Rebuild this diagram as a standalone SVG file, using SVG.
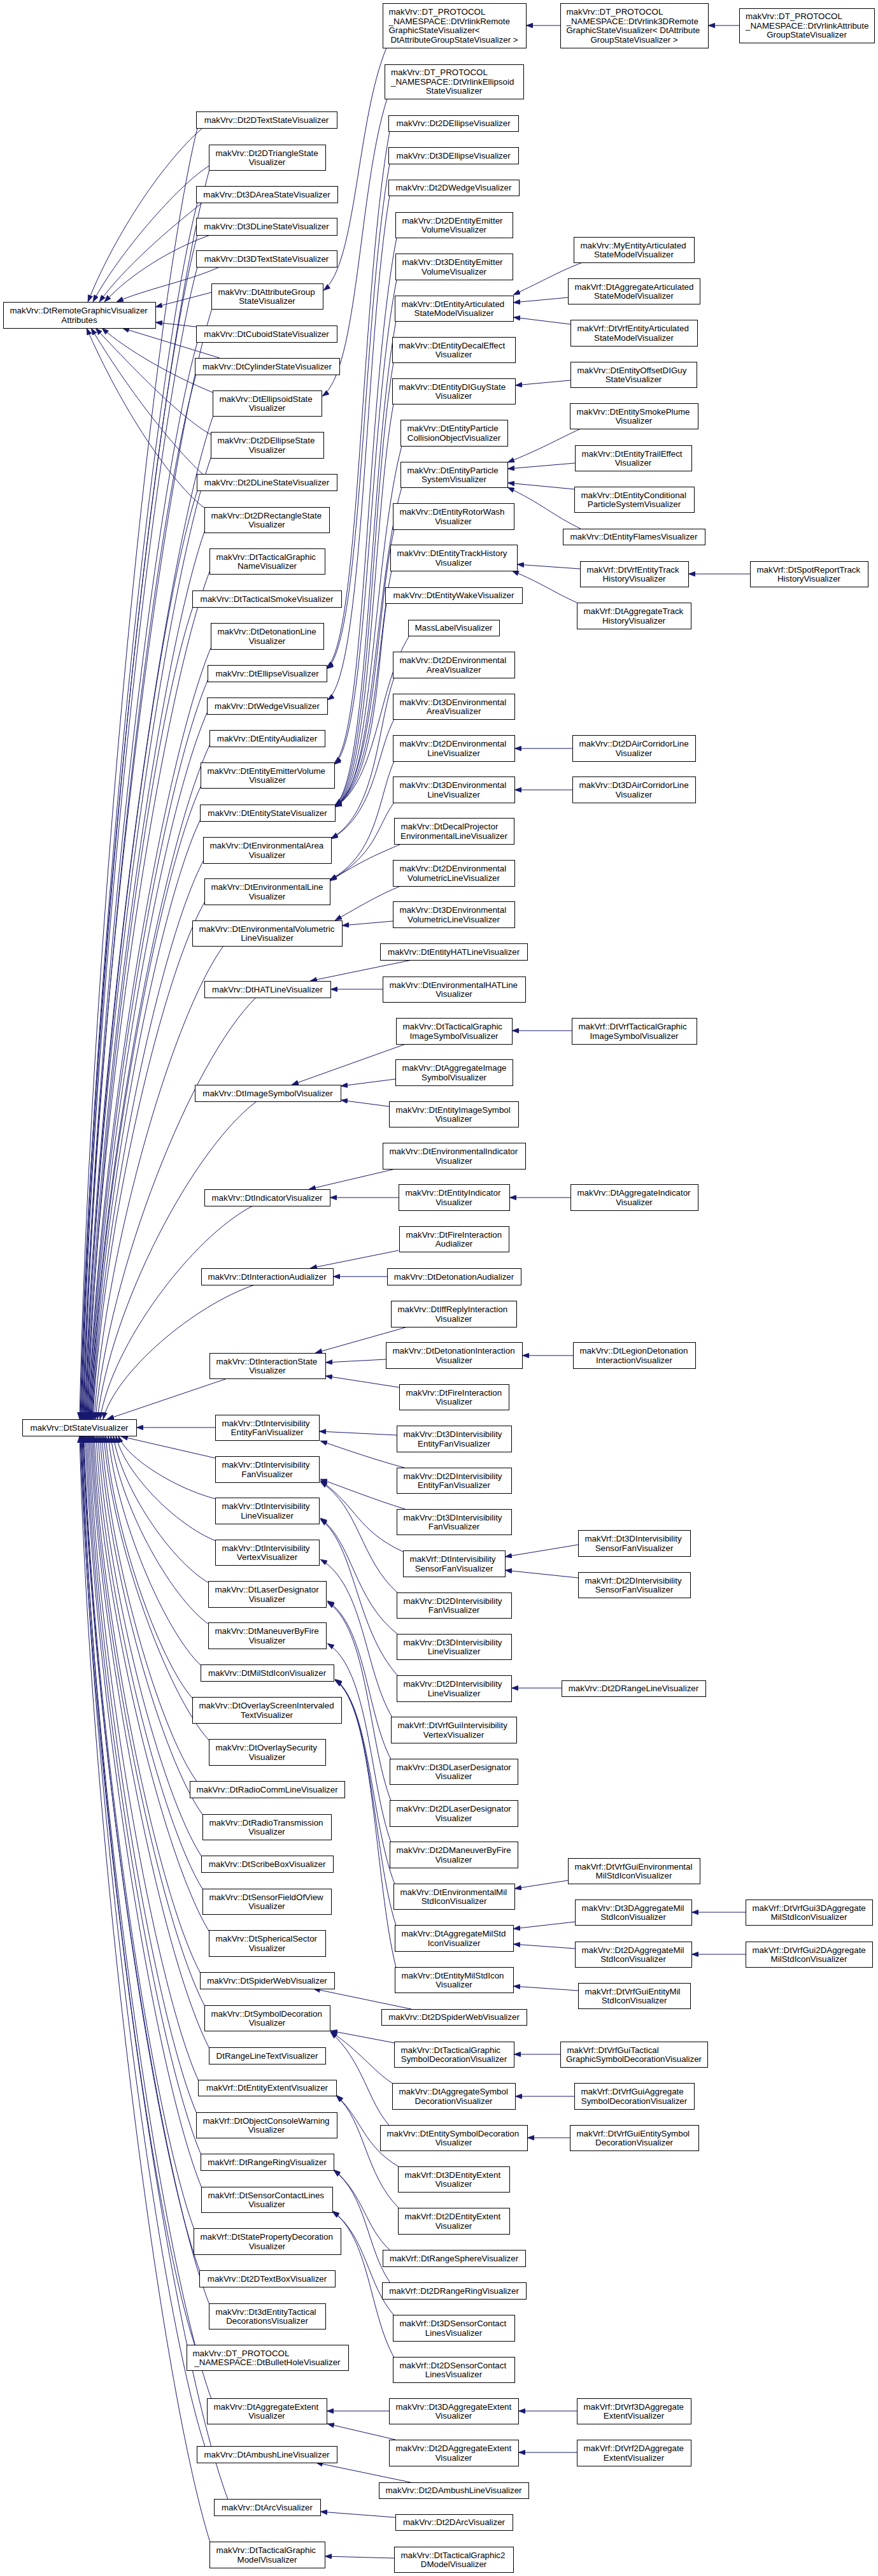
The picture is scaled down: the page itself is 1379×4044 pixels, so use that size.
<svg xmlns="http://www.w3.org/2000/svg" width="1379" height="4044" viewBox="0 0 1379 4044">
<style>
.n rect{fill:#fff;stroke:#000;stroke-width:1}
text{font-family:"Liberation Sans",Arial,Helvetica,sans-serif;font-size:13.33px;fill:#000}
.c{text-anchor:middle}
.e path{fill:none;stroke:#191970;stroke-width:1;marker-end:url(#a)}
</style>
<defs>
<marker id="a" viewBox="0 0 11 8" refX="11" refY="4" markerWidth="11" markerHeight="8" markerUnits="userSpaceOnUse" orient="auto"><path d="M0,0L11,4L0,8z" fill="#191970" stroke="#191970" stroke-width="0.5"/></marker>
</defs>
<rect x="0" y="0" width="1379" height="4044" fill="#fff"/>
<g id="edges" class="e">
<path d="M880,40 L826,40"/>
<path d="M1161,40 L1112,40"/>
<path d="M607,75 C560,189 560,416 508,456"/>
<path d="M608,155 C563,295 563,582 506,622"/>
<path d="M612,206 C566,459 566,1006 513,1048"/>
<path d="M612,257 C569,495 569,1010 513,1050"/>
<path d="M612,307 C572,545 572,1059 514,1099"/>
<path d="M623,373 C575,621 575,1157 525,1198"/>
<path d="M623,439 C578,667 578,1160 525,1200"/>
<path d="M622,504 C580,732 580,1224 526,1264"/>
<path d="M618,569 C582,778 582,1229 526,1264"/>
<path d="M618,634 C584,823 584,1233 526,1265"/>
<path d="M631,700 C586,870 586,1237 526,1265"/>
<path d="M631,765 C588,915 588,1240 526,1266"/>
<path d="M619,831 C590,961 590,1225 526,1266"/>
<path d="M615,896 C591,1007 591,1225 526,1266"/>
<path d="M607,947 C592,1042 592,1225 526,1267"/>
<path d="M643,998 C593,1078 593,1225 526,1267"/>
<path d="M619,1064 C592,1140 592,1276 520,1316"/>
<path d="M619,1129 C590,1185 590,1276 520,1317"/>
<path d="M619,1195 C594,1251 594,1341 518,1381"/>
<path d="M619,1260 C592,1296 592,1341 518,1382"/>
<path d="M630,1325 C595,1340 570,1350 518,1383"/>
<path d="M629,1391 C595,1405 570,1420 526,1445"/>
<path d="M617,1446 L537,1453"/>
<path d="M915,412 C880,425 855,440 806,463"/>
<path d="M892,467 L806,475"/>
<path d="M896,509 L806,498"/>
<path d="M896,597 L809,605"/>
<path d="M912,673 C875,690 850,705 797,726"/>
<path d="M903,727 L797,736"/>
<path d="M902,768 L797,758"/>
<path d="M912,830 C870,810 850,790 797,765"/>
<path d="M911,893 L812,886"/>
<path d="M906,946 C870,930 850,915 804,896"/>
<path d="M1178,901 L1081,901"/>
<path d="M899,1175 L808,1175"/>
<path d="M899,1240 L808,1240"/>
<path d="M647,1507 L487,1540"/>
<path d="M601,1553 L519,1553"/>
<path d="M898,1618 L804,1618"/>
<path d="M637,1639 L458,1703"/>
<path d="M621,1694 L535,1705"/>
<path d="M611,1737 L535,1727"/>
<path d="M621,1835 L485,1867"/>
<path d="M626,1880 L518,1880"/>
<path d="M896,1880 L800,1880"/>
<path d="M626,1963 L487,1991"/>
<path d="M608,2004 L523,2004"/>
<path d="M640,2083 L495,2124"/>
<path d="M606,2134 L511,2139"/>
<path d="M900,2128 L820,2128"/>
<path d="M627,2178 L511,2160"/>
<path d="M623,2253 L501,2247"/>
<path d="M635,2304 C590,2292 550,2278 503,2262"/>
<path d="M636,2369 C590,2355 540,2335 503,2322"/>
<path d="M633,2436 C560,2402 560,2364 503,2324"/>
<path d="M625,2501 C565,2448 565,2366 503,2326"/>
<path d="M908,2425 L793,2444"/>
<path d="M908,2477 L793,2465"/>
<path d="M625,2566 C555,2511 555,2423 503,2383"/>
<path d="M625,2631 C558,2557 558,2425 503,2385"/>
<path d="M882,2650 L803,2650"/>
<path d="M616,2696 C572,2622 572,2488 503,2448"/>
<path d="M614,2762 C575,2687 575,2553 514,2513"/>
<path d="M614,2827 C578,2733 578,2555 514,2515"/>
<path d="M614,2892 C580,2798 580,2620 514,2580"/>
<path d="M620,2958 C582,2861 582,2676 526,2636"/>
<path d="M622,3023 C585,2907 585,2676 526,2637"/>
<path d="M622,3089 C588,2953 588,2676 526,2638"/>
<path d="M892,2952 L808,2965"/>
<path d="M903,3017 L806,3028"/>
<path d="M903,3059 L806,3052"/>
<path d="M1171,3002 L1086,3002"/>
<path d="M1171,3068 L1086,3068"/>
<path d="M908,3125 L806,3118"/>
<path d="M646,3154 L492,3122"/>
<path d="M619,3207 L519,3188"/>
<path d="M617,3271 C585,3250 565,3220 519,3189"/>
<path d="M611,3336 C578,3300 570,3235 519,3190"/>
<path d="M880,3225 L807,3225"/>
<path d="M902,3291 L809,3291"/>
<path d="M895,3356 L828,3356"/>
<path d="M627,3402 C570,3368 570,3329 528,3289"/>
<path d="M627,3467 C573,3414 573,3329 528,3290"/>
<path d="M613,3533 C572,3495 572,3446 524,3406"/>
<path d="M613,3584 C576,3531 576,3446 524,3407"/>
<path d="M619,3635 C576,3586 576,3511 522,3471"/>
<path d="M619,3701 C580,3632 580,3511 522,3472"/>
<path d="M611,3785 L513,3785"/>
<path d="M621,3830 L514,3805"/>
<path d="M906,3785 L814,3785"/>
<path d="M906,3850 L814,3850"/>
<path d="M645,3897 L496,3866"/>
<path d="M621,3952 L503,3943"/>
<path d="M619,4016 L510,4013"/>
<path d="M318,201 C250,260 175,380 138,474"/>
<path d="M329,260 C280,290 185,400 146,474"/>
<path d="M318,318 C265,360 195,420 156,474"/>
<path d="M330,369 C270,390 205,430 164,474"/>
<path d="M345,419 C300,440 225,455 183,474"/>
<path d="M332,459 L244,482"/>
<path d="M308,513 L244,506"/>
<path d="M345,562 L192,515"/>
<path d="M334,616 C270,590 200,550 160,515"/>
<path d="M331,682 C290,660 220,590 150,515"/>
<path d="M318,744 C270,700 200,610 143,515"/>
<path d="M322,798 C270,760 190,640 136,515"/>
<path d="M310,201 C236,505 140,1518 125,2228"/>
<path d="M329,266 C248,560 142,1541 126,2228"/>
<path d="M310,318 C237,605 142,1560 127,2228"/>
<path d="M310,369 C237,648 143,1577 128,2228"/>
<path d="M310,419 C238,690 143,1595 129,2228"/>
<path d="M333,484 C252,746 146,1618 130,2228"/>
<path d="M310,537 C238,791 145,1636 131,2228"/>
<path d="M308,588 C238,834 146,1654 132,2228"/>
<path d="M335,652 C254,888 149,1676 133,2228"/>
<path d="M332,716 C253,943 150,1699 134,2228"/>
<path d="M310,770 C240,989 149,1718 135,2228"/>
<path d="M322,832 C248,1041 151,1739 136,2228"/>
<path d="M330,895 C253,1095 152,1761 137,2228"/>
<path d="M303,953 C237,1144 151,1782 138,2228"/>
<path d="M332,1015 C255,1197 154,1803 139,2228"/>
<path d="M327,1066 C252,1240 155,1821 140,2228"/>
<path d="M326,1117 C252,1284 156,1839 141,2228"/>
<path d="M330,1168 C255,1327 157,1857 142,2228"/>
<path d="M316,1233 C247,1382 157,1880 143,2228"/>
<path d="M315,1286 C247,1427 158,1898 144,2228"/>
<path d="M320,1350 C250,1482 159,1921 145,2228"/>
<path d="M322,1415 C252,1537 160,1943 146,2228"/>
<path d="M351,1485 C270,1596 164,1968 148,2228"/>
<path d="M402,1566 C301,1665 170,1996 150,2228"/>
<path d="M403,1729 C303,1804 173,2053 153,2228"/>
<path d="M397,1893 C301,1943 176,2111 157,2228"/>
<path d="M400,2017 C305,2049 181,2154 162,2228"/>
<path d="M357,2164 L168,2228"/>
<path d="M338,2241 L214,2241"/>
<path d="M338,2289 L190,2255"/>
<path d="M339,2353 C278,2338 198,2289 186,2254"/>
<path d="M339,2419 C276,2394 195,2312 182,2254"/>
<path d="M328,2485 C268,2450 190,2335 178,2254"/>
<path d="M328,2550 C266,2506 186,2358 174,2254"/>
<path d="M316,2615 C258,2561 182,2380 170,2254"/>
<path d="M303,2667 C248,2605 177,2399 166,2254"/>
<path d="M329,2733 C263,2661 176,2422 163,2254"/>
<path d="M310,2798 C250,2716 172,2444 160,2254"/>
<path d="M319,2850 C254,2761 170,2463 157,2254"/>
<path d="M317,2915 C252,2816 167,2485 154,2254"/>
<path d="M319,2967 C252,2860 164,2504 151,2254"/>
<path d="M329,3033 C257,2916 162,2527 148,2254"/>
<path d="M315,3098 C247,2971 160,2549 146,2254"/>
<path d="M322,3150 C251,3016 158,2568 144,2254"/>
<path d="M329,3216 C254,3072 157,2591 142,2254"/>
<path d="M312,3267 C243,3115 154,2609 140,2254"/>
<path d="M309,3318 C241,3158 152,2626 138,2254"/>
<path d="M316,3383 C244,3214 150,2649 136,2254"/>
<path d="M317,3435 C244,3258 149,2667 134,2254"/>
<path d="M305,3500 C236,3313 146,2690 132,2254"/>
<path d="M314,3566 C241,3369 146,2713 131,2254"/>
<path d="M329,3618 C249,3413 146,2731 130,2254"/>
<path d="M306,3682 C235,3468 143,2754 129,2254"/>
<path d="M332,3766 C250,3539 144,2783 128,2254"/>
<path d="M322,3841 C244,3603 143,2809 127,2254"/>
<path d="M358,3924 C265,3674 145,2839 126,2254"/>
<path d="M330,3991 C248,3730 141,2862 125,2254"/>
</g>
<g id="R1" class="n"><rect x="5.5" y="474.5" width="239" height="41"/><text x="15.5" y="492">makVrv::DtRemoteGraphicVisualizer</text><text x="124.5" y="506.5" class="c">Attributes</text></g>
<g id="R2" class="n"><rect x="35.5" y="2228.5" width="179" height="26"/><text x="124.5" y="2245.7" class="c">makVrv::DtStateVisualizer</text></g>
<g id="c_2dtext" class="n"><rect x="308.5" y="175.5" width="221" height="26"/><text x="418.5" y="192.7" class="c">makVrv::Dt2DTextStateVisualizer</text></g>
<g id="c_2dtri" class="n"><rect x="328.5" y="227.5" width="183" height="40"/><text x="338.5" y="244.5">makVrv::Dt2DTriangleState</text><text x="419.5" y="259" class="c">Visualizer</text></g>
<g id="c_3darea" class="n"><rect x="308.5" y="292.5" width="222" height="26"/><text x="419" y="309.7" class="c">makVrv::Dt3DAreaStateVisualizer</text></g>
<g id="c_3dline" class="n"><rect x="308.5" y="342.5" width="221" height="27"/><text x="418.5" y="360.2" class="c">makVrv::Dt3DLineStateVisualizer</text></g>
<g id="c_3dtext" class="n"><rect x="308.5" y="393.5" width="221" height="26"/><text x="418.5" y="410.7" class="c">makVrv::Dt3DTextStateVisualizer</text></g>
<g id="c_attr" class="n"><rect x="332.5" y="445.5" width="175" height="40"/><text x="342.5" y="462.5">makVrv::DtAttributeGroup</text><text x="419.5" y="477" class="c">StateVisualizer</text></g>
<g id="c_cuboid" class="n"><rect x="308.5" y="511.5" width="221" height="26"/><text x="418.5" y="528.7" class="c">makVrv::DtCuboidStateVisualizer</text></g>
<g id="c_cyl" class="n"><rect x="306.5" y="562.5" width="227" height="26"/><text x="419.5" y="579.7" class="c">makVrv::DtCylinderStateVisualizer</text></g>
<g id="c_ellst" class="n"><rect x="334.5" y="613.5" width="171" height="40"/><text x="344.5" y="630.5">makVrv::DtEllipsoidState</text><text x="419.5" y="645" class="c">Visualizer</text></g>
<g id="c_2dellst" class="n"><rect x="331.5" y="678.5" width="177" height="41"/><text x="341.5" y="696">makVrv::Dt2DEllipseState</text><text x="419.5" y="710.5" class="c">Visualizer</text></g>
<g id="c_2dline" class="n"><rect x="309.5" y="744.5" width="220" height="26"/><text x="419" y="761.7" class="c">makVrv::Dt2DLineStateVisualizer</text></g>
<g id="c_2drect" class="n"><rect x="321.5" y="796.5" width="196" height="40"/><text x="331.5" y="813.5">makVrv::Dt2DRectangleState</text><text x="419" y="828" class="c">Visualizer</text></g>
<g id="c_tgname" class="n"><rect x="329.5" y="861.5" width="181" height="40"/><text x="339.5" y="878.5">makVrv::DtTacticalGraphic</text><text x="419.5" y="893" class="c">NameVisualizer</text></g>
<g id="c_tsmoke" class="n"><rect x="302.5" y="927.5" width="234" height="26"/><text x="419" y="944.7" class="c">makVrv::DtTacticalSmokeVisualizer</text></g>
<g id="c_detline" class="n"><rect x="331.5" y="978.5" width="177" height="41"/><text x="341.5" y="996">makVrv::DtDetonationLine</text><text x="419.5" y="1010.5" class="c">Visualizer</text></g>
<g id="c_ellipse" class="n"><rect x="326.5" y="1044.5" width="187" height="26"/><text x="419.5" y="1061.7" class="c">makVrv::DtEllipseVisualizer</text></g>
<g id="c_wedge" class="n"><rect x="325.5" y="1095.5" width="189" height="26"/><text x="419.5" y="1112.7" class="c">makVrv::DtWedgeVisualizer</text></g>
<g id="c_eaud" class="n"><rect x="329.5" y="1146.5" width="181" height="26"/><text x="419.5" y="1163.7" class="c">makVrv::DtEntityAudializer</text></g>
<g id="c_eemit" class="n"><rect x="315.5" y="1197.5" width="210" height="40"/><text x="325.5" y="1214.5">makVrv::DtEntityEmitterVolume</text><text x="420" y="1229" class="c">Visualizer</text></g>
<g id="c_estate" class="n"><rect x="314.5" y="1263.5" width="212" height="26"/><text x="420" y="1280.7" class="c">makVrv::DtEntityStateVisualizer</text></g>
<g id="c_envarea" class="n"><rect x="319.5" y="1314.5" width="201" height="41"/><text x="329.5" y="1332">makVrv::DtEnvironmentalArea</text><text x="419.5" y="1346.5" class="c">Visualizer</text></g>
<g id="c_envline" class="n"><rect x="321.5" y="1379.5" width="197" height="41"/><text x="331.5" y="1397">makVrv::DtEnvironmentalLine</text><text x="419.5" y="1411.5" class="c">Visualizer</text></g>
<g id="c_envvol" class="n"><rect x="302.5" y="1445.5" width="235" height="40"/><text x="312.5" y="1462.5">makVrv::DtEnvironmentalVolumetric</text><text x="419.5" y="1477" class="c">LineVisualizer</text></g>
<g id="c_hat" class="n"><rect x="321.5" y="1540.5" width="198" height="26"/><text x="420" y="1557.7" class="c">makVrv::DtHATLineVisualizer</text></g>
<g id="c_imgsym" class="n"><rect x="306.5" y="1703.5" width="229" height="26"/><text x="420.5" y="1720.7" class="c">makVrv::DtImageSymbolVisualizer</text></g>
<g id="c_ind" class="n"><rect x="321.5" y="1867.5" width="197" height="26"/><text x="419.5" y="1884.7" class="c">makVrv::DtIndicatorVisualizer</text></g>
<g id="c_iaud" class="n"><rect x="316.5" y="1991.5" width="207" height="26"/><text x="419.5" y="2008.7" class="c">makVrv::DtInteractionAudializer</text></g>
<g id="c_istate" class="n"><rect x="329.5" y="2124.5" width="182" height="40"/><text x="339.5" y="2141.5">makVrv::DtInteractionState</text><text x="420" y="2156" class="c">Visualizer</text></g>
<g id="c_ientfan" class="n"><rect x="338.5" y="2221.5" width="163" height="40"/><text x="348.5" y="2238.5">makVrv::DtIntervisibility</text><text x="419.5" y="2253" class="c">EntityFanVisualizer</text></g>
<g id="c_ifan" class="n"><rect x="338.5" y="2286.5" width="163" height="41"/><text x="348.5" y="2304">makVrv::DtIntervisibility</text><text x="419.5" y="2318.5" class="c">FanVisualizer</text></g>
<g id="c_iline" class="n"><rect x="338.5" y="2351.5" width="163" height="41"/><text x="348.5" y="2369">makVrv::DtIntervisibility</text><text x="419.5" y="2383.5" class="c">LineVisualizer</text></g>
<g id="c_ivert" class="n"><rect x="338.5" y="2417.5" width="163" height="40"/><text x="348.5" y="2434.5">makVrv::DtIntervisibility</text><text x="419.5" y="2449" class="c">VertexVisualizer</text></g>
<g id="c_laser" class="n"><rect x="327.5" y="2482.5" width="185" height="41"/><text x="337.5" y="2500">makVrv::DtLaserDesignator</text><text x="419.5" y="2514.5" class="c">Visualizer</text></g>
<g id="c_mbf" class="n"><rect x="327.5" y="2547.5" width="185" height="41"/><text x="337.5" y="2565">makVrv::DtManeuverByFire</text><text x="419.5" y="2579.5" class="c">Visualizer</text></g>
<g id="c_milstd" class="n"><rect x="315.5" y="2613.5" width="209" height="26"/><text x="419.5" y="2630.7" class="c">makVrv::DtMilStdIconVisualizer</text></g>
<g id="c_overscr" class="n"><rect x="302.5" y="2664.5" width="234" height="41"/><text x="312.5" y="2682">makVrv::DtOverlayScreenIntervaled</text><text x="419" y="2696.5" class="c">TextVisualizer</text></g>
<g id="c_oversec" class="n"><rect x="328.5" y="2730.5" width="183" height="41"/><text x="338.5" y="2748">makVrv::DtOverlaySecurity</text><text x="419.5" y="2762.5" class="c">Visualizer</text></g>
<g id="c_radiocomm" class="n"><rect x="298.5" y="2796.5" width="243" height="26"/><text x="419.5" y="2813.7" class="c">makVrv::DtRadioCommLineVisualizer</text></g>
<g id="c_radiotx" class="n"><rect x="318.5" y="2848.5" width="202" height="40"/><text x="328.5" y="2865.5">makVrv::DtRadioTransmission</text><text x="419" y="2880" class="c">Visualizer</text></g>
<g id="c_scribe" class="n"><rect x="316.5" y="2913.5" width="207" height="26"/><text x="419.5" y="2930.7" class="c">makVrv::DtScribeBoxVisualizer</text></g>
<g id="c_sfov" class="n"><rect x="318.5" y="2965.5" width="202" height="40"/><text x="328.5" y="2982.5">makVrv::DtSensorFieldOfView</text><text x="419" y="2997" class="c">Visualizer</text></g>
<g id="c_sphere" class="n"><rect x="328.5" y="3030.5" width="183" height="41"/><text x="338.5" y="3048">makVrv::DtSphericalSector</text><text x="419.5" y="3062.5" class="c">Visualizer</text></g>
<g id="c_spider" class="n"><rect x="314.5" y="3096.5" width="211" height="26"/><text x="419.5" y="3113.7" class="c">makVrv::DtSpiderWebVisualizer</text></g>
<g id="c_symdec" class="n"><rect x="321.5" y="3148.5" width="197" height="40"/><text x="331.5" y="3165.5">makVrv::DtSymbolDecoration</text><text x="419.5" y="3180" class="c">Visualizer</text></g>
<g id="c_rangeltext" class="n"><rect x="328.5" y="3214.5" width="183" height="26"/><text x="419.5" y="3231.7" class="c">DtRangeLineTextVisualizer</text></g>
<g id="c_entext" class="n"><rect x="311.5" y="3265.5" width="217" height="25"/><text x="419.5" y="3282.2" class="c">makVrf::DtEntityExtentVisualizer</text></g>
<g id="c_objcons" class="n"><rect x="308.5" y="3316.5" width="221" height="40"/><text x="318.5" y="3333.5">makVrf::DtObjectConsoleWarning</text><text x="418.5" y="3348" class="c">Visualizer</text></g>
<g id="c_rring" class="n"><rect x="315.5" y="3381.5" width="209" height="26"/><text x="419.5" y="3398.7" class="c">makVrf::DtRangeRingVisualizer</text></g>
<g id="c_scl" class="n"><rect x="316.5" y="3433.5" width="206" height="40"/><text x="326.5" y="3450.5">makVrf::DtSensorContactLines</text><text x="419" y="3465" class="c">Visualizer</text></g>
<g id="c_spdec" class="n"><rect x="304.5" y="3498.5" width="231" height="41"/><text x="314.5" y="3516">makVrf::DtStatePropertyDecoration</text><text x="419.5" y="3530.5" class="c">Visualizer</text></g>
<g id="c_2dtextbox" class="n"><rect x="313.5" y="3564.5" width="213" height="26"/><text x="419.5" y="3581.7" class="c">makVrv::Dt2DTextBoxVisualizer</text></g>
<g id="c_3dtac" class="n"><rect x="328.5" y="3616.5" width="183" height="40"/><text x="338.5" y="3633.5">makVrv::Dt3dEntityTactical</text><text x="419.5" y="3648" class="c">DecorationsVisualizer</text></g>
<g id="c_bullet" class="n"><rect x="293.5" y="3681.5" width="254" height="40"/><text x="302.5" y="3698.5">makVrv::DT_PROTOCOL</text><text x="420" y="3713" class="c">_NAMESPACE::DtBulletHoleVisualizer</text></g>
<g id="c_aggext" class="n"><rect x="325.5" y="3765.5" width="188" height="40"/><text x="335.5" y="3782.5">makVrv::DtAggregateExtent</text><text x="419" y="3797" class="c">Visualizer</text></g>
<g id="c_ambush" class="n"><rect x="309.5" y="3840.5" width="220" height="26"/><text x="419" y="3857.7" class="c">makVrv::DtAmbushLineVisualizer</text></g>
<g id="c_arc" class="n"><rect x="336.5" y="3923.5" width="167" height="26"/><text x="419.5" y="3940.7" class="c">makVrv::DtArcVisualizer</text></g>
<g id="c_tgmodel" class="n"><rect x="329.5" y="3990.5" width="181" height="41"/><text x="339.5" y="4008">makVrv::DtTacticalGraphic</text><text x="419.5" y="4022.5" class="c">ModelVisualizer</text></g>
<g id="d_vlremote" class="n"><rect x="601.5" y="5.5" width="225" height="70"/><text x="610.5" y="23">makVrv::DT_PROTOCOL</text><text x="610.5" y="37.5">_NAMESPACE::DtVrlinkRemote</text><text x="610.5" y="52">GraphicStateVisualizer&lt;</text><text x="713.5" y="66.5" class="c">DtAttributeGroupStateVisualizer &gt;</text></g>
<g id="d_vlell" class="n"><rect x="604.5" y="101.5" width="218" height="54"/><text x="614" y="118.25">makVrv::DT_PROTOCOL</text><text x="614" y="132.75">_NAMESPACE::DtVrlinkEllipsoid</text><text x="713" y="147.25" class="c">StateVisualizer</text></g>
<g id="d_2dell" class="n"><rect x="610.5" y="181.5" width="204" height="25"/><text x="712" y="198.2" class="c">makVrv::Dt2DEllipseVisualizer</text></g>
<g id="d_3dell" class="n"><rect x="610.5" y="231.5" width="204" height="26"/><text x="712" y="248.7" class="c">makVrv::Dt3DEllipseVisualizer</text></g>
<g id="d_2dwedge" class="n"><rect x="610.5" y="282.5" width="205" height="25"/><text x="712.5" y="299.2" class="c">makVrv::Dt2DWedgeVisualizer</text></g>
<g id="d_2demit" class="n"><rect x="621.5" y="333.5" width="184" height="40"/><text x="631.5" y="350.5">makVrv::Dt2DEntityEmitter</text><text x="713" y="365" class="c">VolumeVisualizer</text></g>
<g id="d_3demit" class="n"><rect x="621.5" y="398.5" width="184" height="41"/><text x="631.5" y="416">makVrv::Dt3DEntityEmitter</text><text x="713" y="430.5" class="c">VolumeVisualizer</text></g>
<g id="d_eart" class="n"><rect x="620.5" y="464.5" width="186" height="40"/><text x="630.5" y="481.5">makVrv::DtEntityArticulated</text><text x="713" y="496" class="c">StateModelVisualizer</text></g>
<g id="d_edecal" class="n"><rect x="616.5" y="529.5" width="193" height="40"/><text x="626.5" y="546.5">makVrv::DtEntityDecalEffect</text><text x="712.5" y="561" class="c">Visualizer</text></g>
<g id="d_edig" class="n"><rect x="616.5" y="594.5" width="193" height="40"/><text x="626.5" y="611.5">makVrv::DtEntityDIGuyState</text><text x="712.5" y="626" class="c">Visualizer</text></g>
<g id="d_epcoll" class="n"><rect x="629.5" y="659.5" width="168" height="41"/><text x="639.5" y="677">makVrv::DtEntityParticle</text><text x="713" y="691.5" class="c">CollisionObjectVisualizer</text></g>
<g id="d_epsys" class="n"><rect x="629.5" y="725.5" width="168" height="40"/><text x="639.5" y="742.5">makVrv::DtEntityParticle</text><text x="713" y="757" class="c">SystemVisualizer</text></g>
<g id="d_erotor" class="n"><rect x="617.5" y="790.5" width="190" height="41"/><text x="627.5" y="808">makVrv::DtEntityRotorWash</text><text x="712" y="822.5" class="c">Visualizer</text></g>
<g id="d_etrack" class="n"><rect x="613.5" y="855.5" width="199" height="41"/><text x="623.5" y="873">makVrv::DtEntityTrackHistory</text><text x="712.5" y="887.5" class="c">Visualizer</text></g>
<g id="d_ewake" class="n"><rect x="605.5" y="922.5" width="215" height="25"/><text x="712.5" y="939.2" class="c">makVrv::DtEntityWakeVisualizer</text></g>
<g id="d_mass" class="n"><rect x="641.5" y="973.5" width="143" height="25"/><text x="712.5" y="990.2" class="c">MassLabelVisualizer</text></g>
<g id="d_2denvarea" class="n"><rect x="617.5" y="1023.5" width="191" height="41"/><text x="627.5" y="1041">makVrv::Dt2DEnvironmental</text><text x="712.5" y="1055.5" class="c">AreaVisualizer</text></g>
<g id="d_3denvarea" class="n"><rect x="617.5" y="1089.5" width="191" height="40"/><text x="627.5" y="1106.5">makVrv::Dt3DEnvironmental</text><text x="712.5" y="1121" class="c">AreaVisualizer</text></g>
<g id="d_2denvline" class="n"><rect x="617.5" y="1154.5" width="191" height="41"/><text x="627.5" y="1172">makVrv::Dt2DEnvironmental</text><text x="712.5" y="1186.5" class="c">LineVisualizer</text></g>
<g id="d_3denvline" class="n"><rect x="617.5" y="1219.5" width="191" height="41"/><text x="627.5" y="1237">makVrv::Dt3DEnvironmental</text><text x="712.5" y="1251.5" class="c">LineVisualizer</text></g>
<g id="d_decal" class="n"><rect x="619.5" y="1284.5" width="188" height="41"/><text x="629.5" y="1302">makVrv::DtDecalProjector</text><text x="713" y="1316.5" class="c">EnvironmentalLineVisualizer</text></g>
<g id="d_2denvvol" class="n"><rect x="617.5" y="1350.5" width="191" height="41"/><text x="627.5" y="1368">makVrv::Dt2DEnvironmental</text><text x="712.5" y="1382.5" class="c">VolumetricLineVisualizer</text></g>
<g id="d_3denvvol" class="n"><rect x="617.5" y="1415.5" width="191" height="41"/><text x="627.5" y="1433">makVrv::Dt3DEnvironmental</text><text x="712.5" y="1447.5" class="c">VolumetricLineVisualizer</text></g>
<g id="d_enthat" class="n"><rect x="597.5" y="1481.5" width="231" height="26"/><text x="712.5" y="1498.7" class="c">makVrv::DtEntityHATLineVisualizer</text></g>
<g id="d_envhat" class="n"><rect x="601.5" y="1533.5" width="224" height="40"/><text x="611.5" y="1550.5">makVrv::DtEnvironmentalHATLine</text><text x="713" y="1565" class="c">Visualizer</text></g>
<g id="d_tgimg" class="n"><rect x="622.5" y="1598.5" width="182" height="41"/><text x="632.5" y="1616">makVrv::DtTacticalGraphic</text><text x="713" y="1630.5" class="c">ImageSymbolVisualizer</text></g>
<g id="d_aggimg" class="n"><rect x="621.5" y="1663.5" width="184" height="41"/><text x="631.5" y="1681">makVrv::DtAggregateImage</text><text x="713" y="1695.5" class="c">SymbolVisualizer</text></g>
<g id="d_entimg" class="n"><rect x="611.5" y="1729.5" width="203" height="40"/><text x="621.5" y="1746.5">makVrv::DtEntityImageSymbol</text><text x="712.5" y="1761" class="c">Visualizer</text></g>
<g id="d_envind" class="n"><rect x="601.5" y="1794.5" width="224" height="41"/><text x="611.5" y="1812">makVrv::DtEnvironmentalIndicator</text><text x="713" y="1826.5" class="c">Visualizer</text></g>
<g id="d_entind" class="n"><rect x="626.5" y="1859.5" width="174" height="41"/><text x="636.5" y="1877">makVrv::DtEntityIndicator</text><text x="713" y="1891.5" class="c">Visualizer</text></g>
<g id="d_fireaud" class="n"><rect x="627.5" y="1925.5" width="172" height="40"/><text x="637.5" y="1942.5">makVrv::DtFireInteraction</text><text x="713" y="1957" class="c">Audializer</text></g>
<g id="d_detaud" class="n"><rect x="608.5" y="1991.5" width="210" height="26"/><text x="713" y="2008.7" class="c">makVrv::DtDetonationAudializer</text></g>
<g id="d_iff" class="n"><rect x="614.5" y="2042.5" width="197" height="41"/><text x="624.5" y="2060">makVrv::DtIffReplyInteraction</text><text x="712.5" y="2074.5" class="c">Visualizer</text></g>
<g id="d_detint" class="n"><rect x="606.5" y="2107.5" width="214" height="41"/><text x="616.5" y="2125">makVrv::DtDetonationInteraction</text><text x="713" y="2139.5" class="c">Visualizer</text></g>
<g id="d_fireint" class="n"><rect x="627.5" y="2173.5" width="172" height="40"/><text x="637.5" y="2190.5">makVrv::DtFireInteraction</text><text x="713" y="2205" class="c">Visualizer</text></g>
<g id="d_3dientfan" class="n"><rect x="623.5" y="2238.5" width="180" height="41"/><text x="633.5" y="2256">makVrv::Dt3DIntervisibility</text><text x="713" y="2270.5" class="c">EntityFanVisualizer</text></g>
<g id="d_2dientfan" class="n"><rect x="623.5" y="2304.5" width="180" height="40"/><text x="633.5" y="2321.5">makVrv::Dt2DIntervisibility</text><text x="713" y="2336" class="c">EntityFanVisualizer</text></g>
<g id="d_3difan" class="n"><rect x="623.5" y="2369.5" width="180" height="40"/><text x="633.5" y="2386.5">makVrv::Dt3DIntervisibility</text><text x="713" y="2401" class="c">FanVisualizer</text></g>
<g id="d_isensor" class="n"><rect x="633.5" y="2434.5" width="160" height="41"/><text x="643.5" y="2452">makVrf::DtIntervisibility</text><text x="713" y="2466.5" class="c">SensorFanVisualizer</text></g>
<g id="d_2difan" class="n"><rect x="623.5" y="2500.5" width="180" height="40"/><text x="633.5" y="2517.5">makVrv::Dt2DIntervisibility</text><text x="713" y="2532" class="c">FanVisualizer</text></g>
<g id="d_3diline" class="n"><rect x="623.5" y="2565.5" width="180" height="40"/><text x="633.5" y="2582.5">makVrv::Dt3DIntervisibility</text><text x="713" y="2597" class="c">LineVisualizer</text></g>
<g id="d_2diline" class="n"><rect x="623.5" y="2630.5" width="180" height="41"/><text x="633.5" y="2648">makVrv::Dt2DIntervisibility</text><text x="713" y="2662.5" class="c">LineVisualizer</text></g>
<g id="d_vrfgui_vert" class="n"><rect x="614.5" y="2695.5" width="197" height="41"/><text x="624.5" y="2713">makVrf::DtVrfGuiIntervisibility</text><text x="712.5" y="2727.5" class="c">VertexVisualizer</text></g>
<g id="d_3dlaser" class="n"><rect x="612.5" y="2761.5" width="201" height="40"/><text x="622.5" y="2778.5">makVrv::Dt3DLaserDesignator</text><text x="712.5" y="2793" class="c">Visualizer</text></g>
<g id="d_2dlaser" class="n"><rect x="612.5" y="2826.5" width="201" height="41"/><text x="622.5" y="2844">makVrv::Dt2DLaserDesignator</text><text x="712.5" y="2858.5" class="c">Visualizer</text></g>
<g id="d_2dmbf" class="n"><rect x="612.5" y="2891.5" width="201" height="41"/><text x="622.5" y="2909">makVrv::Dt2DManeuverByFire</text><text x="712.5" y="2923.5" class="c">Visualizer</text></g>
<g id="d_envmil" class="n"><rect x="618.5" y="2957.5" width="190" height="40"/><text x="628.5" y="2974.5">makVrv::DtEnvironmentalMil</text><text x="713" y="2989" class="c">StdIconVisualizer</text></g>
<g id="d_aggmil" class="n"><rect x="620.5" y="3022.5" width="186" height="41"/><text x="630.5" y="3040">makVrv::DtAggregateMilStd</text><text x="713" y="3054.5" class="c">IconVisualizer</text></g>
<g id="d_entmil" class="n"><rect x="620.5" y="3088.5" width="186" height="40"/><text x="630.5" y="3105.5">makVrv::DtEntityMilStdIcon</text><text x="713" y="3120" class="c">Visualizer</text></g>
<g id="d_2dspider" class="n"><rect x="599.5" y="3154.5" width="228" height="25"/><text x="713" y="3171.2" class="c">makVrv::Dt2DSpiderWebVisualizer</text></g>
<g id="d_tgsymdec" class="n"><rect x="619.5" y="3205.5" width="188" height="40"/><text x="629.5" y="3222.5">makVrv::DtTacticalGraphic</text><text x="713" y="3237" class="c">SymbolDecorationVisualizer</text></g>
<g id="d_aggsymdec" class="n"><rect x="616.5" y="3270.5" width="193" height="41"/><text x="626.5" y="3288">makVrv::DtAggregateSymbol</text><text x="712.5" y="3302.5" class="c">DecorationVisualizer</text></g>
<g id="d_entsymdec" class="n"><rect x="597.5" y="3336.5" width="231" height="40"/><text x="607.5" y="3353.5">makVrv::DtEntitySymbolDecoration</text><text x="712.5" y="3368" class="c">Visualizer</text></g>
<g id="d_3dentext" class="n"><rect x="625.5" y="3401.5" width="175" height="40"/><text x="635.5" y="3418.5">makVrf::Dt3DEntityExtent</text><text x="712.5" y="3433" class="c">Visualizer</text></g>
<g id="d_2dentext" class="n"><rect x="625.5" y="3466.5" width="175" height="41"/><text x="635.5" y="3484">makVrf::Dt2DEntityExtent</text><text x="712.5" y="3498.5" class="c">Visualizer</text></g>
<g id="d_rsphere" class="n"><rect x="601.5" y="3532.5" width="224" height="26"/><text x="713" y="3549.7" class="c">makVrf::DtRangeSphereVisualizer</text></g>
<g id="d_2drring" class="n"><rect x="600.5" y="3583.5" width="226" height="26"/><text x="713" y="3600.7" class="c">makVrf::Dt2DRangeRingVisualizer</text></g>
<g id="d_3dscl" class="n"><rect x="617.5" y="3634.5" width="191" height="41"/><text x="627.5" y="3652">makVrf::Dt3DSensorContact</text><text x="712.5" y="3666.5" class="c">LinesVisualizer</text></g>
<g id="d_2dscl" class="n"><rect x="617.5" y="3700.5" width="191" height="40"/><text x="627.5" y="3717.5">makVrf::Dt2DSensorContact</text><text x="712.5" y="3732" class="c">LinesVisualizer</text></g>
<g id="d_3daggext" class="n"><rect x="611.5" y="3765.5" width="203" height="40"/><text x="621.5" y="3782.5">makVrv::Dt3DAggregateExtent</text><text x="712.5" y="3797" class="c">Visualizer</text></g>
<g id="d_2daggext" class="n"><rect x="611.5" y="3830.5" width="203" height="41"/><text x="621.5" y="3848">makVrv::Dt2DAggregateExtent</text><text x="712.5" y="3862.5" class="c">Visualizer</text></g>
<g id="d_2dambush" class="n"><rect x="595.5" y="3897.5" width="235" height="25"/><text x="712.5" y="3914.2" class="c">makVrv::Dt2DAmbushLineVisualizer</text></g>
<g id="d_2darc" class="n"><rect x="621.5" y="3947.5" width="184" height="25"/><text x="713" y="3964.2" class="c">makVrv::Dt2DArcVisualizer</text></g>
<g id="d_tg2d" class="n"><rect x="619.5" y="3998.5" width="187" height="40"/><text x="629.5" y="4015.5">makVrv::DtTacticalGraphic2</text><text x="712.5" y="4030" class="c">DModelVisualizer</text></g>
<g id="e_vl3d" class="n"><rect x="880.5" y="5.5" width="232" height="70"/><text x="889.5" y="23">makVrv::DT_PROTOCOL</text><text x="889.5" y="37.5">_NAMESPACE::DtVrlink3DRemote</text><text x="889.5" y="52">GraphicStateVisualizer&lt; DtAttribute</text><text x="996" y="66.5" class="c">GroupStateVisualizer &gt;</text></g>
<g id="e_myart" class="n"><rect x="901.5" y="372.5" width="189" height="40"/><text x="911.5" y="389.5">makVrv::MyEntityArticulated</text><text x="995.5" y="404" class="c">StateModelVisualizer</text></g>
<g id="e_aggart" class="n"><rect x="892.5" y="437.5" width="207" height="40"/><text x="902.5" y="454.5">makVrf::DtAggregateArticulated</text><text x="995.5" y="469" class="c">StateModelVisualizer</text></g>
<g id="e_vrfart" class="n"><rect x="896.5" y="502.5" width="199" height="41"/><text x="906.5" y="520">makVrf::DtVrfEntityArticulated</text><text x="995.5" y="534.5" class="c">StateModelVisualizer</text></g>
<g id="e_offdig" class="n"><rect x="896.5" y="568.5" width="198" height="40"/><text x="906.5" y="585.5">makVrv::DtEntityOffsetDIGuy</text><text x="995" y="600" class="c">StateVisualizer</text></g>
<g id="e_smoke" class="n"><rect x="895.5" y="633.5" width="201" height="40"/><text x="905.5" y="650.5">makVrv::DtEntitySmokePlume</text><text x="995.5" y="665" class="c">Visualizer</text></g>
<g id="e_trail" class="n"><rect x="903.5" y="699.5" width="183" height="40"/><text x="913.5" y="716.5">makVrv::DtEntityTrailEffect</text><text x="994.5" y="731" class="c">Visualizer</text></g>
<g id="e_cond" class="n"><rect x="902.5" y="764.5" width="188" height="40"/><text x="912.5" y="781.5">makVrv::DtEntityConditional</text><text x="996" y="796" class="c">ParticleSystemVisualizer</text></g>
<g id="e_flames" class="n"><rect x="884.5" y="830.5" width="223" height="25"/><text x="995.5" y="847.2" class="c">makVrv::DtEntityFlamesVisualizer</text></g>
<g id="e_vrftrack" class="n"><rect x="911.5" y="881.5" width="170" height="40"/><text x="921.5" y="898.5">makVrf::DtVrfEntityTrack</text><text x="996" y="913" class="c">HistoryVisualizer</text></g>
<g id="e_aggtrack" class="n"><rect x="906.5" y="946.5" width="179" height="41"/><text x="916.5" y="964">makVrf::DtAggregateTrack</text><text x="995.5" y="978.5" class="c">HistoryVisualizer</text></g>
<g id="e_2dair" class="n"><rect x="899.5" y="1154.5" width="193" height="41"/><text x="909.5" y="1172">makVrv::Dt2DAirCorridorLine</text><text x="995.5" y="1186.5" class="c">Visualizer</text></g>
<g id="e_3dair" class="n"><rect x="899.5" y="1219.5" width="193" height="41"/><text x="909.5" y="1237">makVrv::Dt3DAirCorridorLine</text><text x="995.5" y="1251.5" class="c">Visualizer</text></g>
<g id="e_vrftgimg" class="n"><rect x="898.5" y="1598.5" width="196" height="41"/><text x="908.5" y="1616">makVrf::DtVrfTacticalGraphic</text><text x="996" y="1630.5" class="c">ImageSymbolVisualizer</text></g>
<g id="e_aggind" class="n"><rect x="896.5" y="1859.5" width="200" height="41"/><text x="906.5" y="1877">makVrv::DtAggregateIndicator</text><text x="996" y="1891.5" class="c">Visualizer</text></g>
<g id="e_legion" class="n"><rect x="900.5" y="2107.5" width="192" height="41"/><text x="910.5" y="2125">makVrv::DtLegionDetonation</text><text x="996" y="2139.5" class="c">InteractionVisualizer</text></g>
<g id="e_3dsensor" class="n"><rect x="908.5" y="2402.5" width="176" height="41"/><text x="918.5" y="2420">makVrf::Dt3DIntervisibility</text><text x="996" y="2434.5" class="c">SensorFanVisualizer</text></g>
<g id="e_2dsensor" class="n"><rect x="908.5" y="2468.5" width="176" height="40"/><text x="918.5" y="2485.5">makVrf::Dt2DIntervisibility</text><text x="996" y="2500" class="c">SensorFanVisualizer</text></g>
<g id="e_2drangeline" class="n"><rect x="882.5" y="2638.5" width="226" height="25"/><text x="995" y="2655.2" class="c">makVrv::Dt2DRangeLineVisualizer</text></g>
<g id="e_vrfguienvmil" class="n"><rect x="892.5" y="2917.5" width="207" height="40"/><text x="902.5" y="2934.5">makVrf::DtVrfGuiEnvironmental</text><text x="995.5" y="2949" class="c">MilStdIconVisualizer</text></g>
<g id="e_3daggmil" class="n"><rect x="903.5" y="2982.5" width="183" height="40"/><text x="913.5" y="2999.5">makVrv::Dt3DAggregateMil</text><text x="994.5" y="3014" class="c">StdIconVisualizer</text></g>
<g id="e_2daggmil" class="n"><rect x="903.5" y="3048.5" width="183" height="40"/><text x="913.5" y="3065.5">makVrv::Dt2DAggregateMil</text><text x="994.5" y="3080" class="c">StdIconVisualizer</text></g>
<g id="e_vrfguientmil" class="n"><rect x="908.5" y="3113.5" width="176" height="40"/><text x="918.5" y="3130.5">makVrf::DtVrfGuiEntityMil</text><text x="996" y="3145" class="c">StdIconVisualizer</text></g>
<g id="e_vrfguitg" class="n"><rect x="880.5" y="3205.5" width="231" height="40"/><text x="890.5" y="3222.5">makVrf::DtVrfGuiTactical</text><text x="995.5" y="3237" class="c">GraphicSymbolDecorationVisualizer</text></g>
<g id="e_vrfguiagg" class="n"><rect x="902.5" y="3270.5" width="188" height="41"/><text x="912.5" y="3288">makVrf::DtVrfGuiAggregate</text><text x="996" y="3302.5" class="c">SymbolDecorationVisualizer</text></g>
<g id="e_vrfguient" class="n"><rect x="895.5" y="3336.5" width="202" height="40"/><text x="905.5" y="3353.5">makVrf::DtVrfGuiEntitySymbol</text><text x="996" y="3368" class="c">DecorationVisualizer</text></g>
<g id="e_vrf3dagg" class="n"><rect x="906.5" y="3765.5" width="179" height="40"/><text x="916.5" y="3782.5">makVrf::DtVrf3DAggregate</text><text x="995.5" y="3797" class="c">ExtentVisualizer</text></g>
<g id="e_vrf2dagg" class="n"><rect x="906.5" y="3830.5" width="179" height="41"/><text x="916.5" y="3848">makVrf::DtVrf2DAggregate</text><text x="995.5" y="3862.5" class="c">ExtentVisualizer</text></g>
<g id="f_vlattr" class="n"><rect x="1161.5" y="13.5" width="212" height="54"/><text x="1171" y="30.25">makVrv::DT_PROTOCOL</text><text x="1171" y="44.75">_NAMESPACE::DtVrlinkAttribute</text><text x="1267" y="59.25" class="c">GroupStateVisualizer</text></g>
<g id="f_spot" class="n"><rect x="1178.5" y="881.5" width="185" height="40"/><text x="1188.5" y="898.5">makVrf::DtSpotReportTrack</text><text x="1270.5" y="913" class="c">HistoryVisualizer</text></g>
<g id="f_gui3dagg" class="n"><rect x="1171.5" y="2982.5" width="199" height="40"/><text x="1181.5" y="2999.5">makVrf::DtVrfGui3DAggregate</text><text x="1270.5" y="3014" class="c">MilStdIconVisualizer</text></g>
<g id="f_gui2dagg" class="n"><rect x="1171.5" y="3048.5" width="199" height="40"/><text x="1181.5" y="3065.5">makVrf::DtVrfGui2DAggregate</text><text x="1270.5" y="3080" class="c">MilStdIconVisualizer</text></g>
</svg>
